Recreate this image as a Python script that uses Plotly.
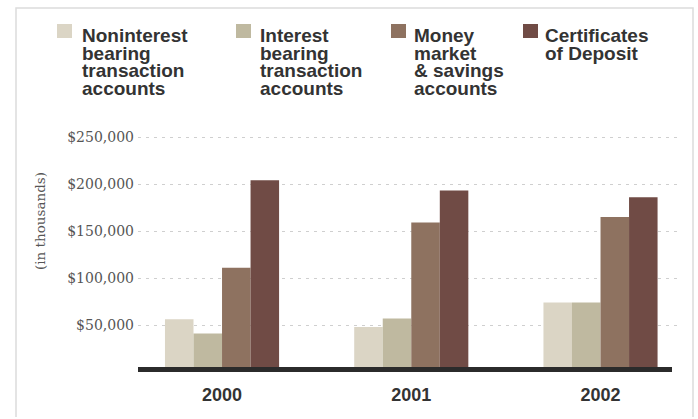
import plotly.graph_objects as go

# Deposit composition by year (values in dollars, thousands shown on axis)
years = ["2000", "2001", "2002"]
noninterest = [56000, 48000, 74000]
interest = [41000, 57000, 74000]
money_market = [111000, 159000, 165000]
certificates = [204000, 193000, 186000]

series_values = [noninterest, interest, money_market, certificates]
series_names = [
    "Noninterest bearing transaction accounts",
    "Interest bearing transaction accounts",
    "Money market & savings accounts",
    "Certificates of Deposit",
]
legend_lines = [
    ["Noninterest", "bearing", "transaction", "accounts"],
    ["Interest", "bearing", "transaction", "accounts"],
    ["Money", "market", "& savings", "accounts"],
    ["Certificates", "of Deposit"],
]
colors = ["#DBD5C5", "#BFB9A0", "#8E7260", "#704B45"]

tick_values = [50000, 100000, 150000, 200000, 250000]
tick_labels = ["$50,000", "$100,000", "$150,000", "$200,000", "$250,000"]

W, H = 698, 419


def px(x):
    return x / W


def py(y):
    return 1 - y / H


x_pos = list(range(len(years)))

fig = go.Figure()
for name, vals, col in zip(series_names, series_values, colors):
    fig.add_trace(go.Bar(
        x=x_pos, y=vals, name=name,
        marker=dict(color=col, line=dict(width=0)),
        showlegend=False,
    ))

shapes = []
# light frame around the panel
shapes.append(dict(
    type="path", xref="paper", yref="paper",
    path=f"M {px(16)} {py(417)} L {px(16)} {py(8)} L {px(693)} {py(8)} L {px(693)} {py(417)}",
    line=dict(color="#DCDCDC", width=1.5),
))
# heavy baseline under the bars
shapes.append(dict(
    type="line", xref="paper", yref="paper",
    x0=px(138), x1=px(672), y0=py(369.5), y1=py(369.5),
    line=dict(color="#2B2B2B", width=5), layer="above",
))

annotations = []
sq_x = [57, 236, 391, 523]
txt_x = [80, 258, 412, 543]
baselines = [42, 59.7, 77.3, 95]
for i in range(len(series_names)):
    shapes.append(dict(
        type="rect", xref="paper", yref="paper",
        x0=px(sq_x[i]), x1=px(sq_x[i] + 15), y0=py(38), y1=py(24),
        fillcolor=colors[i], line=dict(width=0),
    ))
    for j, line in enumerate(legend_lines[i]):
        annotations.append(dict(
            text=line, xref="paper", yref="paper",
            x=px(txt_x[i]), y=py(baselines[j] - 6.3),
            xanchor="left", yanchor="middle", showarrow=False,
            font=dict(family="Liberation Sans, Arial, sans-serif", size=19,
                      color="#333333", weight="bold"),
        ))

annotations.append(dict(
    text="(in thousands)", xref="paper", yref="paper",
    x=px(40), y=py(221), textangle=-90, showarrow=False,
    xanchor="center", yanchor="middle",
    font=dict(family="DejaVu Serif, serif", size=13.5, color="#555555"),
))

y_top = 250000 * (372 - 130) / (372 - 137)

fig.update_layout(
    width=W, height=H,
    margin=dict(l=0, r=0, t=0, b=0),
    paper_bgcolor="white", plot_bgcolor="white",
    barmode="group", bargap=0.397, bargroupgap=0,
    shapes=shapes, annotations=annotations,
    xaxis=dict(
        domain=[px(138), px(680)],
        range=[-0.444, 2.42],
        tickvals=x_pos, ticktext=years,
        showgrid=False, zeroline=False, showline=False, ticks="",
        ticklabelstandoff=10,
        tickfont=dict(family="Liberation Sans, Arial, sans-serif", size=18,
                      color="#333333", weight="bold"),
    ),
    yaxis=dict(
        domain=[py(372), py(130)],
        range=[0, y_top],
        tickvals=tick_values, ticktext=tick_labels,
        showgrid=True, gridcolor="#CFCFCF", gridwidth=1, griddash="3px,5px",
        zeroline=False, showline=False, ticks="",
        ticklabelstandoff=3,
        tickfont=dict(family="DejaVu Serif, serif", size=14, color="#555555"),
    ),
)

fig.write_html("out.html")
